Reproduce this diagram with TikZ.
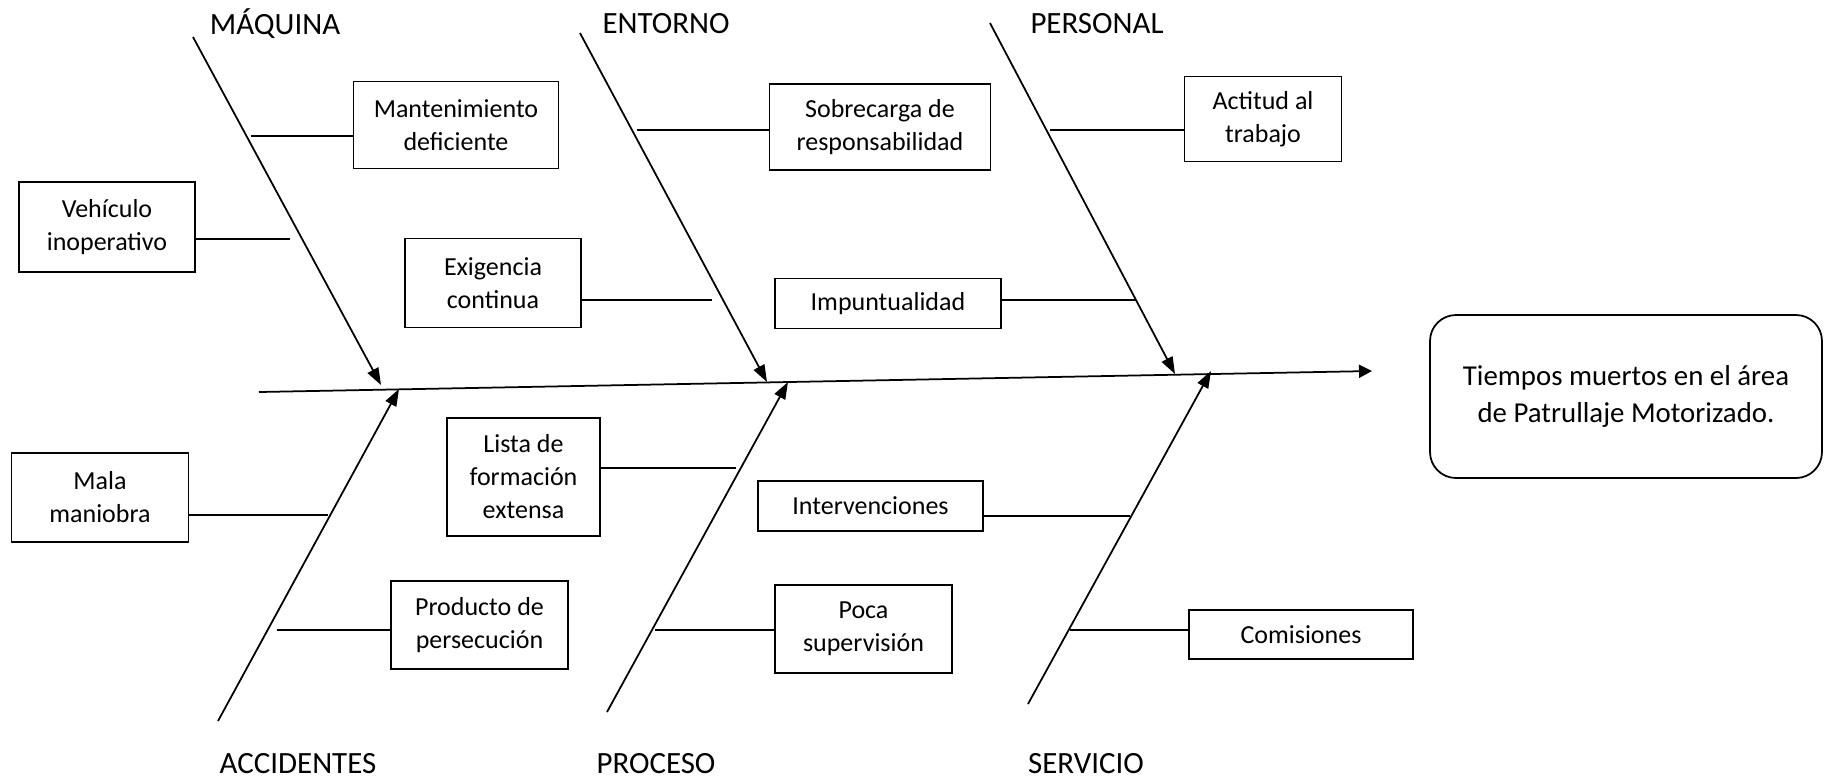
\documentclass[tikz,border=0pt]{standalone}
\usepackage{fontspec}
\setmainfont{Carlito}
\usetikzlibrary{arrows.meta}

\tikzset{
  causa/.style={draw, line width=0.5pt, align=center, inner sep=1pt,
    font=\fontsize{7.4}{9.4}\selectfont},
  categoria/.style={font=\fontsize{8.8}{10}\selectfont},
  efecto/.style={draw, line width=0.5pt, rounded corners=2.6mm, align=center,
    minimum width=3.92cm, minimum height=1.63cm, font=\fontsize{8.2}{10.4}\selectfont},
  espina/.style={line width=0.5pt, -{Triangle[length=1.7mm,width=1.2mm]}},
  lomo/.style={line width=0.5pt, -{Triangle[length=1.3mm,width=1.3mm]}},
  rama/.style={line width=0.5pt}
}

\begin{document}
\begin{tikzpicture}
      \useasboundingbox (0,0) rectangle (18.32,-7.81);
      % categorias
      \node[categoria] (maq) at (2.75,-0.24) {MÁQUINA};
      \node[categoria] (ent) at (6.66,-0.24) {ENTORNO};
      \node[categoria] (per) at (10.97,-0.24) {PERSONAL};
      \node[categoria] (acc) at (2.98,-7.64) {ACCIDENTES};
      \node[categoria] (pro) at (6.56,-7.64) {PROCESO};
      \node[categoria] (ser) at (10.86,-7.64) {SERVICIO};
      % espina principal y efecto
      \coordinate (lomo-a) at (2.59,-3.92);
      \coordinate (lomo-b) at (13.72,-3.71);
      \draw[lomo] (lomo-a) -- (lomo-b);
      \node[efecto] (efecto) at (16.26,-3.965) {Tiempos muertos en el área\\de Patrullaje Motorizado.};
      \foreach \n/\xa/\ya/\xb/\yb in {maq/1.93/-0.37/3.81/-3.85, ent/5.80/-0.33/7.67/-3.82,
          per/9.90/-0.23/11.75/-3.74, acc/2.18/-7.21/3.99/-3.89,
          pro/6.07/-7.12/7.88/-3.82, ser/10.28/-7.04/12.11/-3.71}{
        \coordinate (\n-a) at (\xa,\ya);
        \coordinate (\n-b) at (\xb,\yb);
        \draw[espina] (\n-a) -- (\n-b);
      }
      % causas
      \node[causa, minimum width=2.05cm, minimum height=0.87cm] (mant) at (4.56,-1.25) {Mantenimiento\\deficiente};
      \node[causa, minimum width=1.76cm, minimum height=0.90cm] (vehi) at (1.07,-2.27) {Vehículo\\inoperativo};
      \node[causa, minimum width=1.76cm, minimum height=0.89cm] (exig) at (4.93,-2.83) {Exigencia\\continua};
      \node[causa, minimum width=2.21cm, minimum height=0.86cm] (sobr) at (8.80,-1.27) {Sobrecarga de\\responsabilidad};
      \node[causa, minimum width=2.26cm, minimum height=0.50cm] (impu) at (8.88,-3.035) {Impuntualidad};
      \node[causa, minimum width=1.57cm, minimum height=0.85cm] (acti) at (12.63,-1.19) {Actitud al\\trabajo};
      \node[causa, minimum width=1.77cm, minimum height=0.89cm] (mala) at (1.00,-4.975) {Mala\\maniobra};
      \node[causa, minimum width=1.53cm, minimum height=1.18cm] (list) at (5.235,-4.77) {Lista de\\formación\\extensa};
      \node[causa, minimum width=1.77cm, minimum height=0.88cm] (prod) at (4.795,-6.25) {Producto de\\persecución};
      \node[causa, minimum width=2.25cm, minimum height=0.50cm] (inte) at (8.705,-5.06) {Intervenciones};
      \node[causa, minimum width=1.77cm, minimum height=0.88cm] (poca) at (8.635,-6.29) {Poca\\supervisión};
      \node[causa, minimum width=2.24cm, minimum height=0.49cm] (comi) at (13.01,-6.345) {Comisiones};
      % ramas
      \coordinate (r-mant) at (2.51,-1.36);
      \coordinate (r-vehi) at (2.90,-2.39);
      \coordinate (r-exig) at (7.12,-3.00);
      \coordinate (r-sobr) at (6.37,-1.30);
      \coordinate (r-impu) at (11.36,-3.00);
      \coordinate (r-acti) at (10.50,-1.30);
      \coordinate (r-mala) at (3.28,-5.15);
      \coordinate (r-list) at (7.36,-4.68);
      \coordinate (r-prod) at (2.77,-6.30);
      \coordinate (r-inte) at (11.30,-5.16);
      \coordinate (r-poca) at (6.55,-6.30);
      \coordinate (r-comi) at (10.70,-6.30);
      \foreach \c in {mant,sobr,acti,prod,poca,comi}{
        \draw[rama] (r-\c) -- (r-\c -| \c.west);
      }
      \foreach \c in {vehi,exig,impu,mala,list,inte}{
        \draw[rama] (r-\c -| \c.east) -- (r-\c);
      }
    \end{tikzpicture}
\end{document}
